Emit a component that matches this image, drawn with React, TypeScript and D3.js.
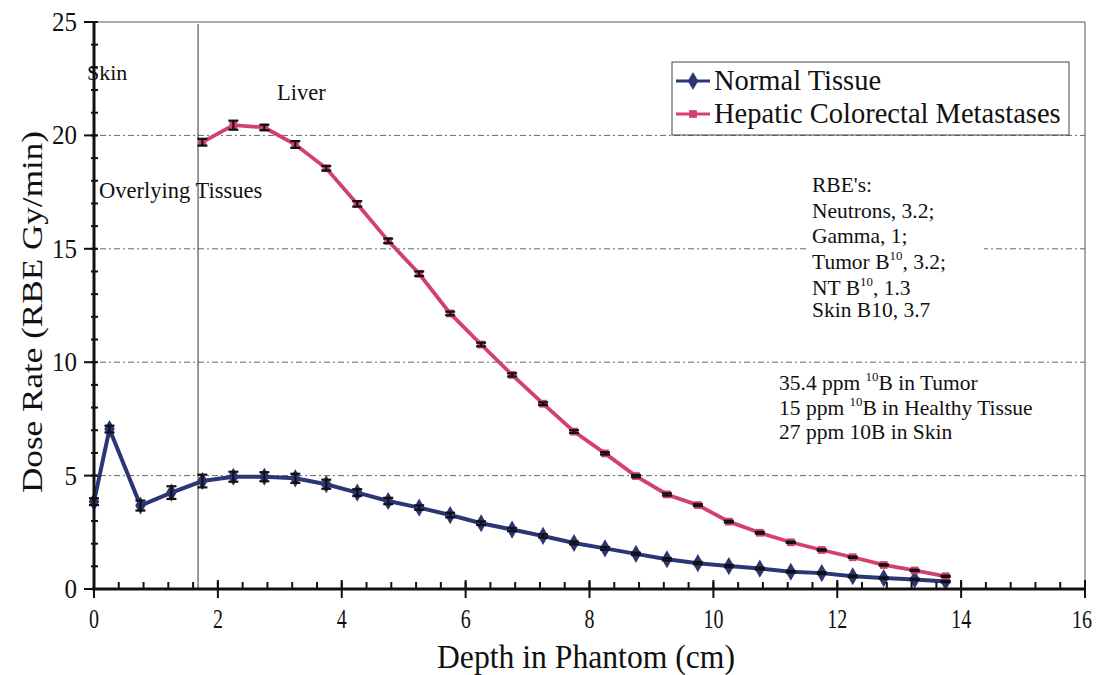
import React from "react";
import * as d3 from "d3";

const normalDepth = [0, 0.25, 0.75, 1.25, 1.75, 2.25, 2.75, 3.25, 3.75, 4.25, 4.75, 5.25, 5.75, 6.25, 6.75, 7.25, 7.75, 8.25, 8.75, 9.25, 9.75, 10.25, 10.75, 11.25, 11.75, 12.25, 12.75, 13.25, 13.75];
const normalDose = [3.85, 7.05, 3.68, 4.25, 4.76, 4.95, 4.95, 4.88, 4.62, 4.25, 3.88, 3.59, 3.26, 2.9, 2.62, 2.34, 2.03, 1.79, 1.55, 1.31, 1.14, 1.01, 0.9, 0.76, 0.7, 0.56, 0.48, 0.42, 0.33];
const normalErr = [0.15, 0.15, 0.22, 0.28, 0.28, 0.22, 0.2, 0.2, 0.2, 0.15, 0.14, 0.1, 0.1, 0.08, 0.07, 0.07, 0.06, 0.06, 0.05, 0.05, 0.05, 0.05, 0.04, 0.04, 0.04, 0.04, 0.03, 0.03, 0.03];

const tumorDepth = [1.75, 2.25, 2.75, 3.25, 3.75, 4.25, 4.75, 5.25, 5.75, 6.25, 6.75, 7.25, 7.75, 8.25, 8.75, 9.25, 9.75, 10.25, 10.75, 11.25, 11.75, 12.25, 12.75, 13.25, 13.75];
const tumorDose = [19.7, 20.45, 20.35, 19.6, 18.55, 16.98, 15.35, 13.9, 12.15, 10.78, 9.44, 8.17, 6.94, 5.98, 4.98, 4.17, 3.7, 2.97, 2.48, 2.06, 1.72, 1.4, 1.06, 0.82, 0.56];
const tumorErr = [0.15, 0.2, 0.12, 0.15, 0.1, 0.12, 0.1, 0.1, 0.08, 0.08, 0.07, 0.06, 0.06, 0.05, 0.05, 0.05, 0.04, 0.04, 0.04, 0.03, 0.03, 0.03, 0.03, 0.03, 0.03];

const xTicks = [0, 2, 4, 6, 8, 10, 12, 14, 16];
const yTicks = [0, 5, 10, 15, 20, 25];
const gridValues = [5, 10, 15, 20];
const regionBoundary = 1.68;

const seriesNames = ["Normal Tissue", "Hepatic Colorectal Metastases"];
const rbeLines = ["RBE's:", "Neutrons, 3.2;", "Gamma, 1;", "Tumor B|10|, 3.2;", "NT B|10|, 1.3", "Skin B10, 3.7"];
const ppmLines = ["35.4 ppm |10|B in Tumor", "15 ppm |10|B in Healthy Tissue", "27 ppm 10B in Skin"];

const BLUE = "#2a3676";
const PINK = "#d3406f";
const FONT = "'Liberation Serif', 'Times New Roman', serif";

function RichText({ s, x, y, size }: { s: string; x: number; y: number; size: number }) {
  const parts = s.split("|");
  return (
    <text x={x} y={y} fontSize={size} fontFamily={FONT} fill="#111">
      {parts.map((p, i) =>
        i % 2 === 1 ? (
          <tspan key={i} fontSize={size * 0.6} dy={-size * 0.4}>{p}</tspan>
        ) : (
          <tspan key={i} dy={i > 0 ? size * 0.4 : 0}>{p}</tspan>
        )
      )}
    </text>
  );
}

export default function App() {
  const W = 1099, H = 675;
  const x = d3.scaleLinear().domain([0, 16]).range([94, 1085]);
  const y = d3.scaleLinear().domain([0, 25]).range([589, 22]);

  const line = d3.line<[number, number]>().x((d) => x(d[0])).y((d) => y(d[1]));
  const normalPts: [number, number][] = normalDepth.map((d, i) => [d, normalDose[i]]);
  const tumorPts: [number, number][] = tumorDepth.map((d, i) => [d, tumorDose[i]]);

  const yMinor = d3.range(0, 25.001, 1);
  const xMinor = d3.range(0, 16.001, 0.4);

  const diamond = d3.symbol().type(d3.symbolDiamond).size(95)();
  const square = d3.symbol().type(d3.symbolSquare).size(60)();

  const errBar = (xv: number, yv: number, e: number, k: string) => {
    const cx = x(xv);
    const y1 = y(yv + e), y2 = y(yv - e);
    return (
      <g key={k} stroke="#111" strokeWidth={2.2}>
        <line x1={cx} x2={cx} y1={y1} y2={y2} />
        <line x1={cx - 5} x2={cx + 5} y1={y1} y2={y1} />
        <line x1={cx - 5} x2={cx + 5} y1={y2} y2={y2} />
      </g>
    );
  };

  return (
    <svg width={W} height={H} style={{ position: "absolute", left: 0, top: 0, background: "#fff" }}>
      {/* gridlines */}
      {gridValues.map((g) => (
        <line key={g} x1={100} x2={1085} y1={y(g)} y2={y(g)} stroke="#666" strokeWidth={1} strokeDasharray="6,3,2,3" />
      ))}
      {/* frame */}
      <line x1={94} x2={1085} y1={y(25)} y2={y(25)} stroke="#555" strokeWidth={1} />
      <line x1={1085} x2={1085} y1={y(25)} y2={y(0)} stroke="#555" strokeWidth={1} />
      {/* region boundary */}
      <line x1={x(regionBoundary)} x2={x(regionBoundary)} y1={y(25) + 2} y2={y(0)} stroke="#333" strokeWidth={1} />

      {/* annotation text boxes */}
      <rect x={808} y={172} width={176} height={148} fill="#fff" />
      {rbeLines.map((s, i) => (
        <RichText key={s} s={s} x={812} y={[192, 218, 243, 269, 295, 317][i]} size={21.5} />
      ))}
      {ppmLines.map((s, i) => (
        <RichText key={s} s={s} x={779} y={[390, 415, 439][i]} size={21.5} />
      ))}
      <text x={87} y={80} fontSize={22} fontFamily={FONT} fill="#111">Skin</text>
      <text x={277} y={100} fontSize={22.5} fontFamily={FONT} fill="#111">Liver</text>
      <text x={99} y={198} fontSize={22.5} fontFamily={FONT} fill="#111">Overlying Tissues</text>

      {/* series lines */}
      <path d={line(normalPts) || ""} fill="none" stroke={BLUE} strokeWidth={4} />
      <path d={line(tumorPts) || ""} fill="none" stroke={PINK} strokeWidth={3.8} />
      {normalPts.map((p, i) => (
        <path key={"n" + i} d={diamond || ""} transform={`translate(${x(p[0])},${y(p[1])})`} fill={BLUE} />
      ))}
      {tumorPts.map((p, i) => (
        <path key={"t" + i} d={square || ""} transform={`translate(${x(p[0])},${y(p[1])})`} fill={PINK} />
      ))}
      {normalPts.map((p, i) => errBar(p[0], p[1], normalErr[i], "ne" + i))}
      {tumorPts.map((p, i) => errBar(p[0], p[1], tumorErr[i], "te" + i))}

      {/* axes */}
      <line x1={94} x2={94} y1={y(25)} y2={y(0)} stroke="#111" strokeWidth={3} />
      <line x1={92} x2={1085} y1={y(0)} y2={y(0)} stroke="#111" strokeWidth={3} />
      {yMinor.map((v) => (
        <line key={"ym" + v} x1={91} x2={98} y1={y(v)} y2={y(v)} stroke="#111" strokeWidth={2} />
      ))}
      {yTicks.map((v) => (
        <g key={"yt" + v}>
          <line x1={84} x2={97} y1={y(v)} y2={y(v)} stroke="#111" strokeWidth={2} />
          <text x={77} y={y(v) + 9} textAnchor="end" fontSize={27} fontFamily={FONT} fill="#111"
            textLength={String(v).length * 12.5} lengthAdjust="spacingAndGlyphs">{v}</text>
        </g>
      ))}
      {xMinor.map((v) => (
        <line key={"xm" + v} x1={x(v)} x2={x(v)} y1={y(0) - 7} y2={y(0)} stroke="#111" strokeWidth={2} />
      ))}
      {xTicks.map((v) => {
        const s = String(v);
        return (
          <g key={"xt" + v}>
            <line x1={x(v)} x2={x(v)} y1={y(0) - 9} y2={y(0) + 9} stroke="#111" strokeWidth={2} />
            <text x={v === 16 ? x(v) - 3 : x(v)} y={628} textAnchor="middle" fontSize={v === 16 ? 26 : 28} fontFamily={FONT} fill="#111"
              textLength={s.length * 10} lengthAdjust="spacingAndGlyphs">{s}</text>
          </g>
        );
      })}

      {/* axis titles */}
      <text x={586} y={668} textAnchor="middle" fontSize={33} fontFamily={FONT} fill="#111"
        textLength={298} lengthAdjust="spacingAndGlyphs">Depth in Phantom  (cm)</text>
      <text transform={`translate(42,312) rotate(-90)`} textAnchor="middle" fontSize={30} fontFamily={FONT} fill="#111"
        textLength={362} lengthAdjust="spacingAndGlyphs">Dose Rate  (RBE Gy/min)</text>

      {/* legend */}
      <rect x={672} y={62} width={397} height={73} fill="#fff" stroke="#444" strokeWidth={1} />
      {seriesNames.map((name, i) => {
        const ly = 81 + i * 33;
        const col = i === 0 ? BLUE : PINK;
        return (
          <g key={name}>
            <line x1={676} x2={710} y1={ly} y2={ly} stroke={col} strokeWidth={3} />
            <path d={(i === 0 ? diamond : square) || ""} transform={`translate(693,${ly})`} fill={col} />
            <text x={714} y={ly + 9} fontSize={28.5} fontFamily={FONT} fill="#111">{name}</text>
          </g>
        );
      })}
    </svg>
  );
}
